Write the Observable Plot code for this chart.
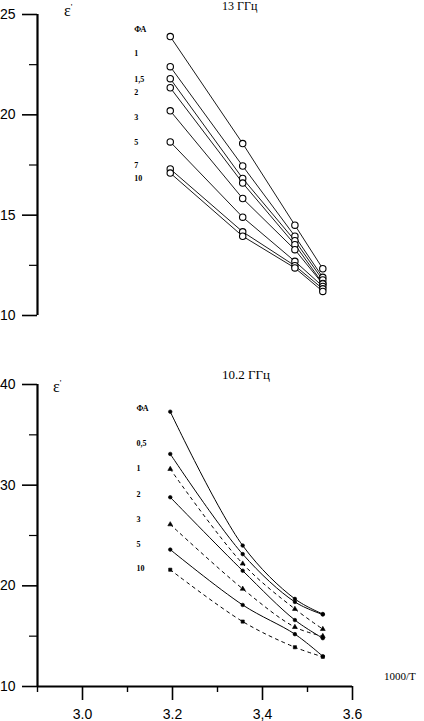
<!DOCTYPE html>
<html>
<head>
<meta charset="utf-8">
<script src="https://cdn.jsdelivr.net/npm/d3@7"></script>
<script src="https://cdn.jsdelivr.net/npm/@observablehq/plot@0.6"></script>
<style>
  html, body { margin: 0; padding: 0; background: #fff; }
  #wrap { position: relative; width: 424px; height: 721px; overflow: hidden; background: #fff; }
  .panel { position: absolute; left: 0; }
  .lbl { position: absolute; font-family: "Liberation Serif", serif; color: #000; white-space: nowrap; line-height: 1; }
</style>
</head>
<body>
<div id="wrap">
  <div id="panelTop" class="panel" style="top:0"></div>
  <div id="panelBot" class="panel" style="top:360px"></div>
  <div class="lbl" style="left:222px; top:0px; font-size:12px;">13 ГГц</div>
  <div class="lbl" style="left:64px; top:3px; font-size:16px;">ε<sup style="font-size:9px; vertical-align:6px;">'</sup></div>
  <div class="lbl" style="left:222px; top:368px; font-size:13px;">10.2 ГГц</div>
  <div class="lbl" style="left:53px; top:379px; font-size:16px;">ε<sup style="font-size:9px; vertical-align:6px;">'</sup></div>
  <div class="lbl" style="left:384px; top:671px; font-size:11px;">1000/T</div>
</div>
<script>
// 1000/T values (x axis)
const xVals = [3.195, 3.356, 3.472, 3.534];

// Panel 1: 13 GHz
const series13 = ["ФА", "1", "1,5", "2", "3", "5", "7", "10"];
const eps13 = [
  [23.9, 18.57, 14.5, 12.33],
  [22.4, 17.45, 13.95, 11.9],
  [21.8, 16.83, 13.73, 11.77],
  [21.35, 16.6, 13.53, 11.6],
  [20.2, 15.83, 13.28, 11.57],
  [18.65, 14.9, 12.7, 11.45],
  [17.3, 14.17, 12.48, 11.33],
  [17.1, 13.95, 12.37, 11.2]
];
const labelY13 = [24.25, 23.05, 21.75, 21.1, 19.85, 18.6, 17.5, 16.85];

// Panel 2: 10.2 GHz
const series102 = ["ФА", "0,5", "1", "2", "3", "5", "10"];
const eps102 = [
  [37.3, 24.0, 18.7, 17.2],
  [33.1, 23.15, 18.4, 17.15],
  [31.6, 22.2, 17.7, 15.7],
  [28.8, 21.5, 16.6, 14.8],
  [26.1, 19.7, 15.9, 15.0],
  [23.6, 18.1, 15.2, 13.0],
  [21.6, 16.45, 13.9, 12.95]
];
const dashed102 = [false, false, true, false, true, false, true];
const symbols102 = ["circle", "circle", "triangle", "circle", "triangle", "circle", "square"];
const labelY102 = [37.6, 34.1, 31.7, 29.1, 26.6, 24.1, 21.7];

// Axes
const yTicks13 = [10, 15, 20, 25];
const yMinor13 = [12.5, 17.5, 22.5];
const yTicks102 = [10, 20, 30, 40];
const yMinor102 = [15, 25, 35];
const xTicks = [3.0, 3.2, 3.4, 3.6];
const xTickLabels = ["3.0", "3.2", "3,4", "3.6"];
const xMinor = [2.9, 3.1, 3.3, 3.5];
const labelX = 3.115;

const data13 = series13.flatMap((s, i) => xVals.map((x, j) => ({s, x, y: eps13[i][j]})));
const data102 = series102.flatMap((s, i) => xVals.map((x, j) => ({s, x, y: eps102[i][j], dashed: dashed102[i], sym: symbols102[i]})));

const tickFont = "Liberation Sans, Arial, sans-serif";

const plotTop = Plot.plot({
  width: 424, height: 330,
  marginTop: 14, marginBottom: 15, marginLeft: 37, marginRight: 72,
  x: {domain: [2.9, 3.6], axis: null},
  y: {domain: [10, 25]},
  style: {background: "transparent", fontFamily: tickFont, color: "black"},
  marks: [
    Plot.axisY({ticks: yTicks13, tickSize: 15, tickPadding: 7, fontSize: 14, strokeWidth: 1.6, label: null}),
    Plot.axisY({ticks: yMinor13, tickSize: 8, tickFormat: () => "", strokeWidth: 1.2, label: null}),
    Plot.ruleX([2.9], {strokeWidth: 2.2, stroke: "black"}),
    Plot.line(data13, {x: "x", y: "y", z: "s", stroke: "black", strokeWidth: 0.9}),
    Plot.dot(data13, {x: "x", y: "y", r: 3.2, stroke: "black", fill: "white", strokeWidth: 1.1}),
    Plot.text(series13, {x: () => labelX, y: (d, i) => labelY13[i], text: d => d, textAnchor: "start", fontSize: 8, fontWeight: "bold", fontFamily: "Liberation Serif, serif"})
  ]
});
document.getElementById("panelTop").appendChild(plotTop);

const plotBot = Plot.plot({
  width: 424, height: 361,
  marginTop: 24, marginBottom: 35, marginLeft: 37, marginRight: 72,
  x: {domain: [2.9, 3.6]},
  y: {domain: [10, 40]},
  symbol: {domain: ["circle", "triangle", "square"], range: ["circle", "triangle", "square"]},
  style: {background: "transparent", fontFamily: tickFont, color: "black"},
  marks: [
    Plot.axisY({ticks: yTicks102, tickSize: 15, tickPadding: 7, fontSize: 14, strokeWidth: 1.6, label: null}),
    Plot.axisY({ticks: yMinor102, tickSize: 8, tickFormat: () => "", strokeWidth: 1.2, label: null}),
    Plot.axisX({ticks: xTicks, tickSize: 14, tickPadding: 9, fontSize: 14, strokeWidth: 1.6, label: null,
      tickFormat: d => xTickLabels[xTicks.findIndex(t => Math.abs(t - d) < 1e-9)]}),
    Plot.axisX({ticks: xMinor, tickSize: 6, tickFormat: () => "", strokeWidth: 1.4, label: null}),
    Plot.ruleX([2.9], {strokeWidth: 2.2, stroke: "black"}),
    Plot.ruleY([10], {strokeWidth: 2.2, stroke: "black"}),
    Plot.line(data102.filter(d => !d.dashed), {x: "x", y: "y", z: "s", stroke: "black", strokeWidth: 1, curve: "catmull-rom"}),
    Plot.line(data102.filter(d => d.dashed), {x: "x", y: "y", z: "s", stroke: "black", strokeWidth: 1, strokeDasharray: "3,4", curve: "catmull-rom"}),
    Plot.dot(data102, {x: "x", y: "y", r: 1.8, symbol: "sym", fill: "black", stroke: "black", strokeWidth: 0.6}),
    Plot.text(series102, {x: () => labelX + 0.005, y: (d, i) => labelY102[i], text: d => d, textAnchor: "start", fontSize: 8, fontWeight: "bold", fontFamily: "Liberation Serif, serif"})
  ]
});
document.getElementById("panelBot").appendChild(plotBot);
</script>
</body>
</html>
